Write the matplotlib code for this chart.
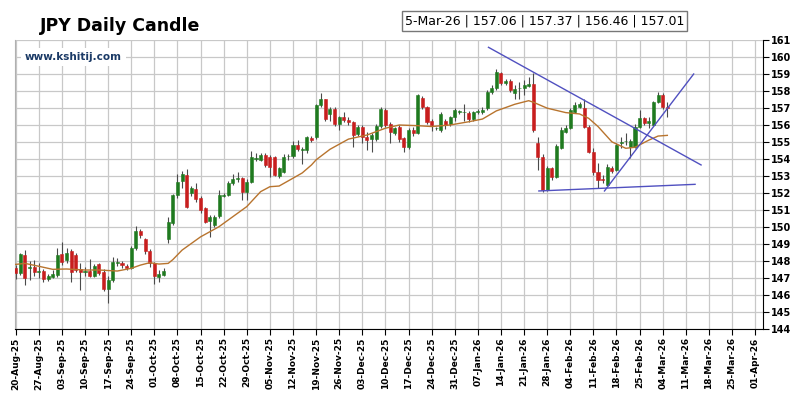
import numpy as np
import matplotlib
matplotlib.use("Agg")
import matplotlib.pyplot as plt

# ---------------- data ----------------
opens = [147.60, 147.30, 148.36, 147.59, 147.66, 147.34, 147.41, 146.92, 147.08, 147.18,
         148.40, 148.06, 148.56, 148.36, 147.53, 147.34, 147.41, 147.13, 147.80, 147.33,
         146.35, 146.88, 147.90, 147.86, 147.72, 147.57, 148.79, 149.77, 149.30, 148.60,
         147.87, 147.04, 147.17, 149.32, 150.25, 151.89, 152.68, 153.06, 151.99, 152.22,
         151.72, 151.09, 150.37, 150.11, 150.65, 151.85, 151.88, 152.58, 152.84, 152.87,
         152.08, 152.67, 154.02, 153.95, 154.23, 154.13, 154.13, 152.99, 153.25, 154.15,
         154.17, 154.83, 154.55, 154.53, 155.25, 155.31, 157.18, 157.51, 156.65, 156.93,
         156.05, 156.49, 156.29, 156.15, 155.47, 155.91, 155.31, 155.16, 155.17, 155.96,
         156.89, 156.04, 155.55, 155.91, 155.22, 154.69, 155.71, 155.55, 157.61, 157.08,
         156.25, 155.80, 155.71, 156.23, 156.05, 156.45, 156.78, 156.74, 156.73, 156.34,
         156.78, 156.77, 156.98, 157.97, 158.16, 159.08, 158.46, 158.61, 157.87, 158.15,
         158.16, 158.30, 158.41, 154.92, 154.13, 152.17, 153.45, 152.96, 154.63, 155.61,
         155.81, 156.79, 157.08, 157.02, 155.91, 154.43, 153.25, 152.81, 152.47, 153.45,
         153.35, 154.97, 155.03, 154.73, 154.73, 155.91, 156.39, 156.10, 156.00, 157.37,
         157.76, 157.06]
highs = [147.74, 148.48, 148.63, 147.99, 148.04, 147.89, 147.54, 147.25, 147.45, 148.74,
         149.13, 148.74, 148.69, 148.49, 147.89, 147.64, 148.14, 147.84, 147.89, 147.54,
         147.10, 148.24, 148.19, 147.99, 147.84, 148.88, 150.03, 149.88, 149.38, 148.69,
         147.94, 147.49, 147.59, 150.57, 151.96, 153.09, 153.29, 153.39, 152.40, 152.59,
         151.80, 151.20, 150.71, 150.71, 152.20, 152.00, 152.70, 153.09, 153.24, 152.94,
         152.84, 154.47, 154.37, 154.37, 154.37, 154.22, 154.17, 153.53, 154.27, 154.27,
         155.07, 155.11, 154.72, 155.36, 155.36, 157.24, 157.91, 157.54, 157.04, 157.04,
         156.55, 156.75, 156.45, 156.25, 156.00, 156.00, 155.56, 155.51, 156.05, 157.04,
         157.00, 156.15, 155.91, 156.00, 155.31, 155.81, 155.86, 157.84, 157.69, 157.14,
         156.35, 155.91, 156.75, 156.35, 156.55, 157.00, 156.90, 157.25, 156.85, 156.85,
         156.95, 157.04, 158.08, 158.38, 159.27, 159.12, 158.73, 158.73, 158.33, 158.53,
         158.63, 158.83, 159.08, 155.31, 154.27, 153.58, 153.53, 154.87, 155.86, 156.00,
         157.00, 157.37, 157.34, 157.51, 156.00, 154.63, 153.75, 153.06, 153.68, 153.58,
         154.92, 155.31, 155.51, 155.16, 156.05, 156.89, 156.50, 156.49, 157.44, 157.96,
         157.90, 157.37]
lows = [146.95, 147.15, 146.60, 146.90, 147.10, 147.00, 146.75, 146.80, 147.00, 147.05,
        147.74, 147.89, 146.78, 147.34, 146.30, 147.10, 147.05, 147.05, 147.15, 146.25,
        145.51, 146.75, 147.69, 147.59, 147.49, 147.54, 148.63, 149.33, 148.43, 147.64,
        146.65, 146.75, 147.10, 149.03, 150.12, 151.70, 152.30, 151.10, 151.80, 151.50,
        150.81, 150.21, 149.42, 150.01, 150.51, 151.75, 151.80, 152.50, 152.64, 151.60,
        151.58, 152.59, 153.88, 153.88, 153.53, 152.97, 152.98, 152.88, 153.18, 153.97,
        154.07, 154.47, 153.68, 154.37, 155.01, 155.16, 157.04, 156.25, 156.25, 155.95,
        155.70, 156.15, 156.00, 154.68, 155.36, 154.95, 154.53, 154.43, 155.06, 155.85,
        155.90, 154.96, 155.41, 155.01, 154.43, 154.57, 155.36, 155.46, 156.95, 156.05,
        155.65, 155.71, 155.61, 155.75, 155.95, 156.25, 156.65, 156.25, 156.15, 156.25,
        156.65, 156.65, 156.90, 157.84, 158.08, 158.33, 158.33, 157.93, 157.51, 157.51,
        157.76, 158.23, 155.61, 153.35, 152.08, 152.13, 152.76, 152.88, 154.57, 155.51,
        155.75, 156.69, 156.99, 155.80, 154.37, 153.05, 152.27, 152.57, 152.39, 153.18,
        153.28, 154.63, 154.82, 154.04, 154.62, 155.81, 156.00, 155.81, 155.95, 157.27,
        156.92, 156.46]
closes = [147.30, 148.39, 147.00, 147.61, 147.36, 147.36, 146.92, 147.10, 147.24, 148.36,
          147.96, 148.46, 147.36, 147.47, 147.36, 147.36, 147.13, 147.70, 147.27, 146.35,
          146.88, 147.96, 147.94, 147.74, 147.57, 148.79, 149.79, 149.53, 148.56, 147.87,
          147.09, 147.21, 147.43, 150.32, 151.89, 152.64, 153.10, 151.19, 152.28, 151.63,
          150.99, 150.31, 150.61, 150.61, 151.88, 151.90, 152.58, 152.81, 152.87, 152.03,
          152.67, 154.13, 154.05, 154.23, 153.65, 153.55, 153.05, 153.45, 154.13, 154.17,
          154.83, 154.57, 154.57, 155.27, 155.11, 157.18, 157.51, 156.34, 156.93, 156.05,
          156.49, 156.29, 156.15, 155.41, 155.91, 155.27, 155.11, 155.41, 155.96, 156.93,
          156.00, 155.61, 155.81, 155.17, 154.69, 155.71, 155.55, 157.77, 157.04, 156.19,
          156.00, 155.82, 156.65, 156.00, 156.45, 156.89, 156.80, 156.76, 156.34, 156.75,
          156.80, 156.89, 157.97, 158.16, 159.14, 158.46, 158.61, 158.06, 158.10, 158.17,
          158.35, 158.41, 155.71, 154.13, 152.17, 153.45, 152.96, 154.77, 155.71, 155.81,
          156.89, 157.18, 157.24, 155.91, 154.43, 153.25, 152.77, 152.79, 153.55, 153.31,
          154.83, 155.00, 155.05, 155.03, 155.91, 156.39, 156.13, 156.23, 157.37, 157.76,
          157.08, 157.01]

# moving average (read points: trading-day index, value)
ma_idx = [0, 2, 5, 8, 11, 15, 18, 22, 25, 27, 29, 31, 33, 34, 36, 40, 44, 47, 50, 53,
          55, 57, 60, 62, 64, 65, 68, 72, 76, 80, 83, 87, 90, 94, 98, 101, 104, 108, 111,
          112, 115, 119, 122, 124, 126, 129, 132, 134, 137, 139, 141]
ma_val = [147.80, 147.86, 147.69, 147.51, 147.53, 147.47, 147.47, 147.41, 147.57, 147.76,
          147.90, 147.82, 147.86, 148.08, 148.64, 149.42, 150.02, 150.61, 151.20, 152.08,
          152.37, 152.41, 152.87, 153.18, 153.65, 153.95, 154.57, 155.17, 155.41, 155.81,
          156.00, 155.96, 155.91, 156.00, 156.19, 156.35, 156.83, 157.22, 157.43, 157.34,
          156.99, 156.73, 156.65, 156.39, 155.91, 155.01, 154.63, 154.69, 155.11, 155.35,
          155.39]

# hand-drawn trend lines (index, price) pairs
trend_down = ([102.3, 148.3], [160.57, 153.65])
trend_support = ([113.2, 147.0], [152.12, 152.51])
trend_up = ([127.4, 146.7], [152.12, 159.00])

tick_labels = ["20-Aug-25", "27-Aug-25", "03-Sep-25", "10-Sep-25", "17-Sep-25", "24-Sep-25",
               "01-Oct-25", "08-Oct-25", "15-Oct-25", "22-Oct-25", "29-Oct-25", "05-Nov-25",
               "12-Nov-25", "19-Nov-25", "26-Nov-25", "03-Dec-25", "10-Dec-25", "17-Dec-25",
               "24-Dec-25", "31-Dec-25", "07-Jan-26", "14-Jan-26", "21-Jan-26", "28-Jan-26",
               "04-Feb-26", "11-Feb-26", "18-Feb-26", "25-Feb-26", "04-Mar-26", "11-Mar-26",
               "18-Mar-26", "25-Mar-26", "01-Apr-26"]
y_ticks = list(range(144, 162))
title = "JPY Daily Candle"
info = "5-Mar-26 | 157.06 | 157.37 | 156.46 | 157.01"
watermark = "www.kshitij.com"

# ---------------- plotting ----------------
fig = plt.figure(figsize=(8, 4), dpi=100)
ax = fig.add_axes([0.01875, 0.1775, 0.935, 0.7225])

o = np.array(opens); h = np.array(highs); l = np.array(lows); c = np.array(closes)
x = np.arange(len(o))
up = c >= o
green = "#1f7a1f"
red = "#c81e1e"
cols = np.where(up, green, red)

ax.vlines(x, l, h, color="#4a4a4a", lw=0.8, zorder=2)
bottoms = np.minimum(o, c)
heights = np.maximum(np.abs(c - o), 0.05)
ax.bar(x, heights, bottom=bottoms, width=0.66, color=cols, edgecolor=cols,
       linewidth=0.4, zorder=3)

ax.plot(ma_idx, ma_val, color="#b8742e", lw=1.0, zorder=4)

line_col = "#5050c0"
for tx, ty in (trend_down, trend_support, trend_up):
    ax.plot(tx, ty, color=line_col, lw=1.0, zorder=5)

ax.set_xlim(-0.15, 161.7)
ax.set_ylim(144, 161)
ax.set_xticks(np.arange(0, 5 * len(tick_labels), 5))
ax.set_xticklabels(tick_labels, rotation=90, fontsize=6.5, fontweight="bold")
ax.set_yticks(y_ticks)
ax.yaxis.tick_right()
ax.set_yticklabels([str(v) for v in y_ticks], fontsize=7, fontweight="bold")
ax.tick_params(axis="both", direction="out", length=4, width=0.8, pad=2)

ax.grid(True, color="#c8c8c8", lw=0.9)
ax.set_axisbelow(True)
ax.spines["top"].set_visible(False)
ax.spines["left"].set_color("#b0b0b0")
ax.spines["right"].set_color("black")
ax.spines["bottom"].set_color("black")

fig.text(40 / 800, 1 - 26 / 400, title, fontsize=12.5, fontweight="bold",
         va="center", ha="left")
fig.text(544.5 / 800, 1 - 21 / 400, info, fontsize=9, va="center", ha="center",
         bbox=dict(boxstyle="square,pad=0.25", facecolor="white", edgecolor="#777777", lw=1))
fig.text(25 / 800, 1 - 57 / 400, watermark, fontsize=7.5, fontweight="bold",
         color="#1b3a66", va="center", ha="left",
         bbox=dict(boxstyle="square,pad=0.35", facecolor="white", edgecolor="none"))

fig.savefig("out.png", dpi=100)
